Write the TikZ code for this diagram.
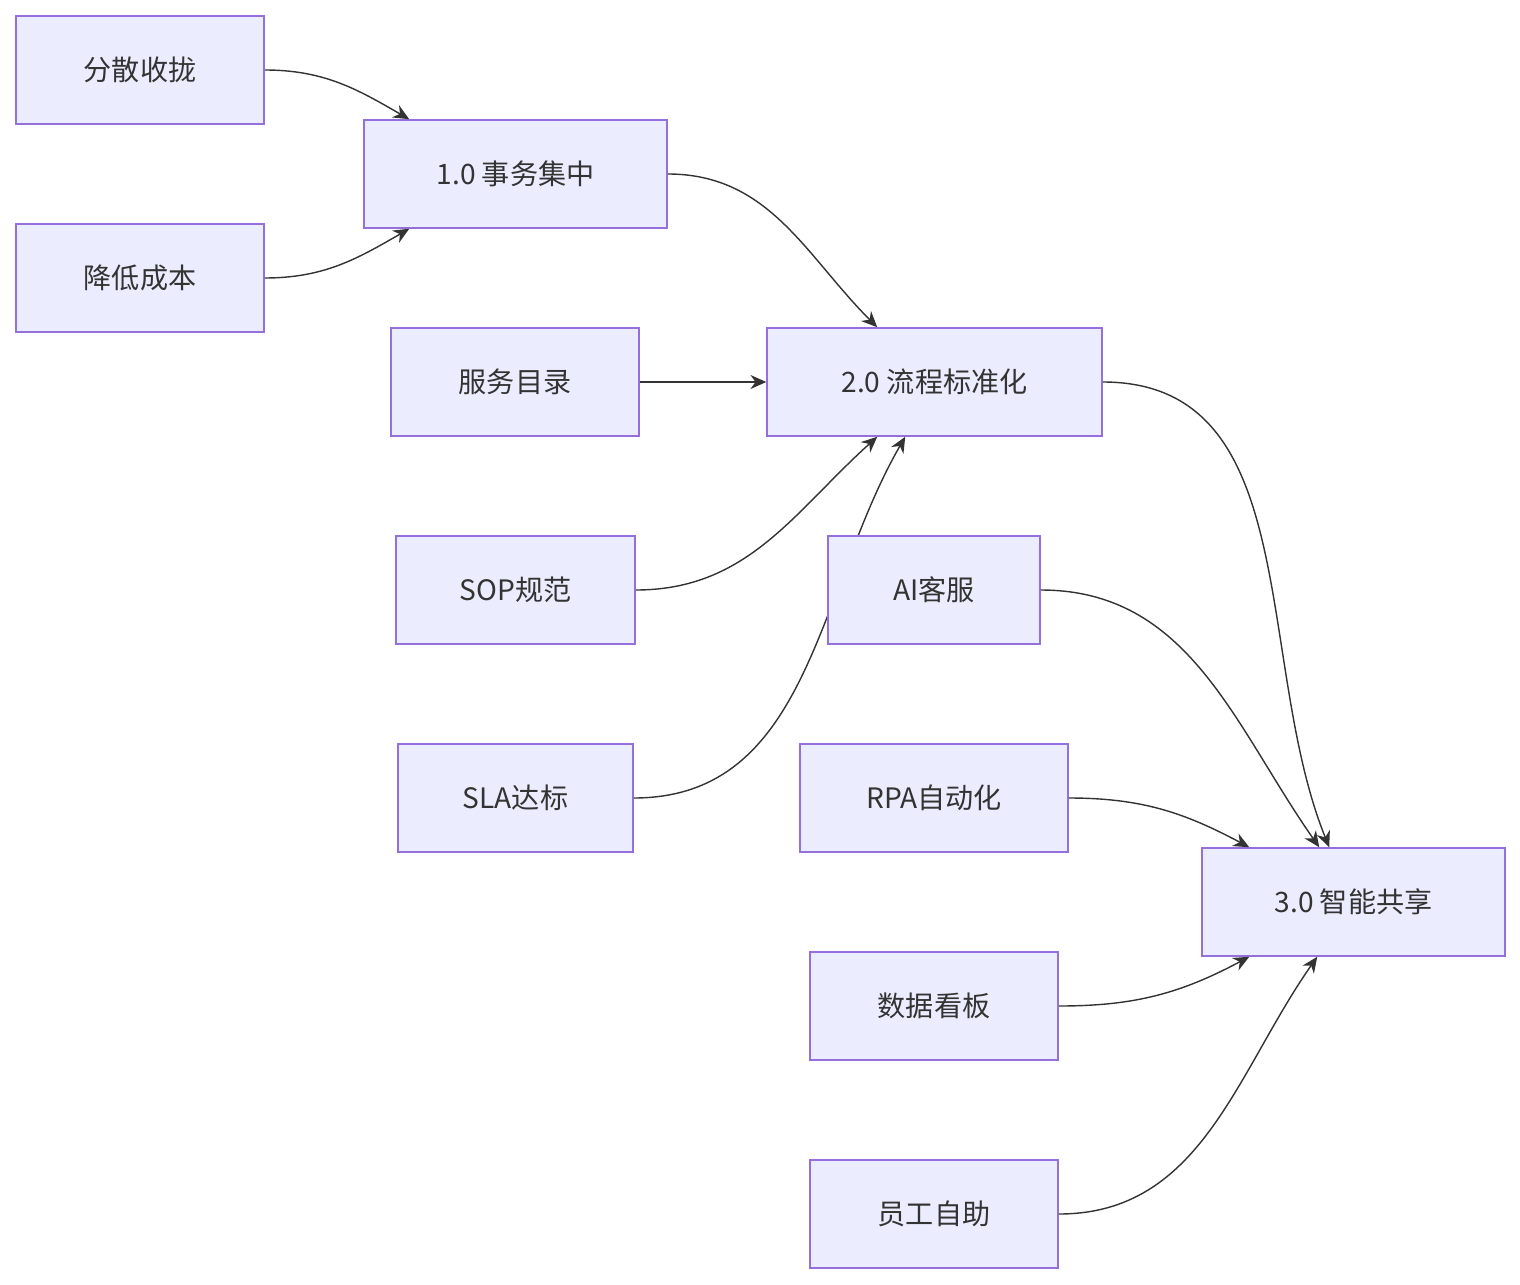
\documentclass[tikz,border=0pt]{standalone}
\usepackage{fontspec}
\setmainfont{Noto Sans CJK SC}
\usetikzlibrary{arrows.meta}

\definecolor{boxfill}{HTML}{ECECFF}
\definecolor{boxline}{HTML}{9370DB}
\definecolor{ink}{HTML}{333333}

\begin{document}
\begin{tikzpicture} [x=0.02cm, y=-0.02cm, thick, line width=1.1pt,
	box/.style={draw=boxline, fill=boxfill, line width=0.9pt, minimum height=2.16cm, text=ink, font=\fontsize{16}{20}\selectfont, inner sep=0pt},
	link/.style={draw=ink, -{Stealth[length=9pt,width=8pt]}, line width=0.8pt}]

\useasboundingbox (0,0) rectangle (1520,1284);

% edges go under the boxes
\coordinate (p_scatter) at (140,70);
\coordinate (p_cost) at (140,278);
\coordinate (p_v1) at (515.5,174);
\coordinate (p_catalog) at (515,382);
\coordinate (p_sop) at (515.5,590);
\coordinate (p_sla) at (515.5,798);
\coordinate (p_v2) at (934.5,382);
\coordinate (p_ai) at (934,590);
\coordinate (p_rpa) at (934,798);
\coordinate (p_board) at (934,1006);
\coordinate (p_self) at (934,1214);
\coordinate (p_v3) at (1353.5,902);

\node[box, minimum width=4.96cm]	(scatter)	at (p_scatter)	{分散收拢};
\node[box, minimum width=4.96cm]	(cost)		at (p_cost)		{降低成本};
\node[box, minimum width=6.06cm]	(v1)		at (p_v1)		{1.0 事务集中};
\node[box, minimum width=4.96cm]	(catalog)	at (p_catalog)	{服务目录};
\node[box, minimum width=4.78cm]	(sop)		at (p_sop)		{SOP规范};
\node[box, minimum width=4.70cm]	(sla)		at (p_sla)		{SLA达标};
\node[box, minimum width=6.70cm]	(v2)		at (p_v2)		{2.0 流程标准化};
\node[box, minimum width=6.06cm]	(v3)		at (p_v3)		{3.0 智能共享};

\begin{scope}[on background layer/.style={}]
\path[link]	(scatter.east)	to[out=0, in=150]	([xshift=0.92cm]v1.north west);
\path[link]	(cost.east)		to[out=0, in=210]	([xshift=0.92cm]v1.south west);
\path[link]	(v1.east)		to[out=0, in=135]	([xshift=2.22cm]v2.north west);
\path[link]	(catalog)		-- (v2.west);
\path[link]	(sop.east)		to[out=0, in=222]	([xshift=2.22cm]v2.south west);
\path[link]	(sla.east)		to[out=0, in=240]	([xshift=2.78cm]v2.south west);
\path[link]	(v2.east)		to[out=0, in=112]	([xshift=2.56cm]v3.north west);
\end{scope}

\node[box, minimum width=4.24cm]	(ai)		at (p_ai)		{AI客服};
\node[box, minimum width=5.36cm]	(rpa)		at (p_rpa)		{RPA自动化};
\node[box, minimum width=4.96cm]	(board)		at (p_board)	{数据看板};
\node[box, minimum width=4.96cm]	(self)		at (p_self)		{员工自助};

\path[link]	(ai.east)		to[out=0, in=125]	([xshift=2.36cm]v3.north west);
\path[link]	(rpa.east)		to[out=0, in=152]	([xshift=0.96cm]v3.north west);
\path[link]	(board.east)	to[out=0, in=208]	([xshift=0.96cm]v3.south west);
\path[link]	(self.east)		to[out=0, in=235]	([xshift=2.32cm]v3.south west);

\end{tikzpicture}
\end{document}
